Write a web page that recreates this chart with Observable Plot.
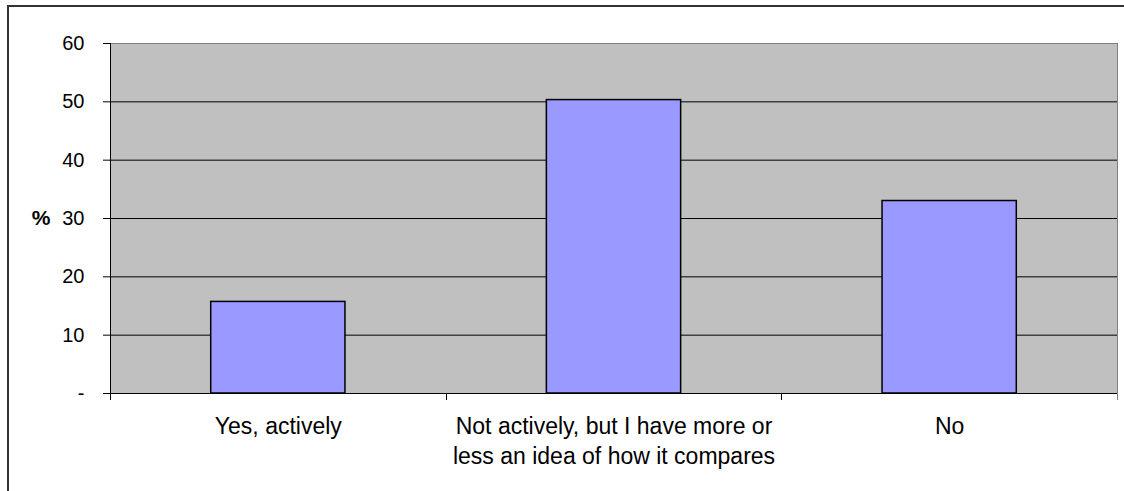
<!DOCTYPE html>
<html><head><meta charset="utf-8">
<script src="https://cdn.jsdelivr.net/npm/d3@7"></script>
<script src="https://cdn.jsdelivr.net/npm/@observablehq/plot@0.6"></script>
<style>
html,body{margin:0;padding:0;overflow:hidden;background:#fff;width:1124px;height:491px;}
#border{position:absolute;left:7px;top:5px;width:1200px;height:600px;border:2px solid #333;box-sizing:border-box;}
#chart{position:absolute;left:0;top:0;}
</style></head><body>
<div id="border"></div>
<div id="chart"></div>
<script>
const categories = ["Yes, actively", "Not actively, but I have more or less an idea of how it compares", "No"];
const tickLabels = ["Yes, actively", "Not actively, but I have more or\nless an idea of how it compares", "No"];
const values = [15.7, 50.3, 33.0];
const yTicks = [0, 10, 20, 30, 40, 50, 60];
const gridValues = [10, 20, 30, 40, 50];
const yLabel = "%";

const data = categories.map((c, i) => ({category: c, label: tickLabels[i], value: values[i]}));
const font = "'Liberation Sans', Arial, sans-serif";

const plot = Plot.plot({
  width: 1124, height: 491,
  marginLeft: 110, marginRight: 7, marginTop: 43, marginBottom: 98,
  style: {fontFamily: font, background: "transparent", color: "#000"},
  x: {domain: categories, paddingInner: 0.6, paddingOuter: 0.3, round: false, axis: null},
  y: {domain: [0, 60], axis: null},
  marks: [
    Plot.frame({fill: "#C0C0C0", stroke: "#808080"}),
    Plot.ruleY(gridValues, {stroke: "#000", strokeWidth: 1}),
    Plot.barY(data, {x: "category", y: "value", fill: "#9999FF", stroke: "#000", strokeWidth: 1.5}),
    Plot.ruleY([0], {stroke: "#000"}),
    Plot.axisY(yTicks, {label: null, tickSize: 7, tickPadding: 19, tickFormat: d => d === 0 ? "-" : d, fontSize: 20}),
    Plot.text(data, {x: "category", text: "label", frameAnchor: "bottom", lineAnchor: "top", dy: 19, fontSize: 23, lineHeight: 1.3}),
    Plot.text([yLabel], {frameAnchor: "left", textAnchor: "middle", dx: -69.5, fontWeight: "bold", fontSize: 21})
  ]
});
document.getElementById("chart").appendChild(plot);

// axis line and category-boundary ticks, positioned from the plot's own scales
const xs = plot.scale("x");
const ys = plot.scale("y");
const step = xs.step != null ? xs.step : (xs.apply(categories[1]) - xs.apply(categories[0]));
const xStart = xs.range[0];
const yZero = ys.apply(0), yTop = ys.apply(60);
const g = d3.select(plot).append("g").attr("stroke", "#000").attr("stroke-width", 1);
g.append("line").attr("x1", xStart + 0.5).attr("x2", xStart + 0.5).attr("y1", yTop).attr("y2", yZero + 7);
for (let i = 0; i <= categories.length; i++) {
  const x = Math.round(xStart + i * step) + 0.5;
  g.append("line").attr("x1", x).attr("x2", x).attr("y1", yZero).attr("y2", yZero + 7)
    .attr("stroke", i === categories.length ? "#808080" : "#000");
}
</script>
</body></html>
